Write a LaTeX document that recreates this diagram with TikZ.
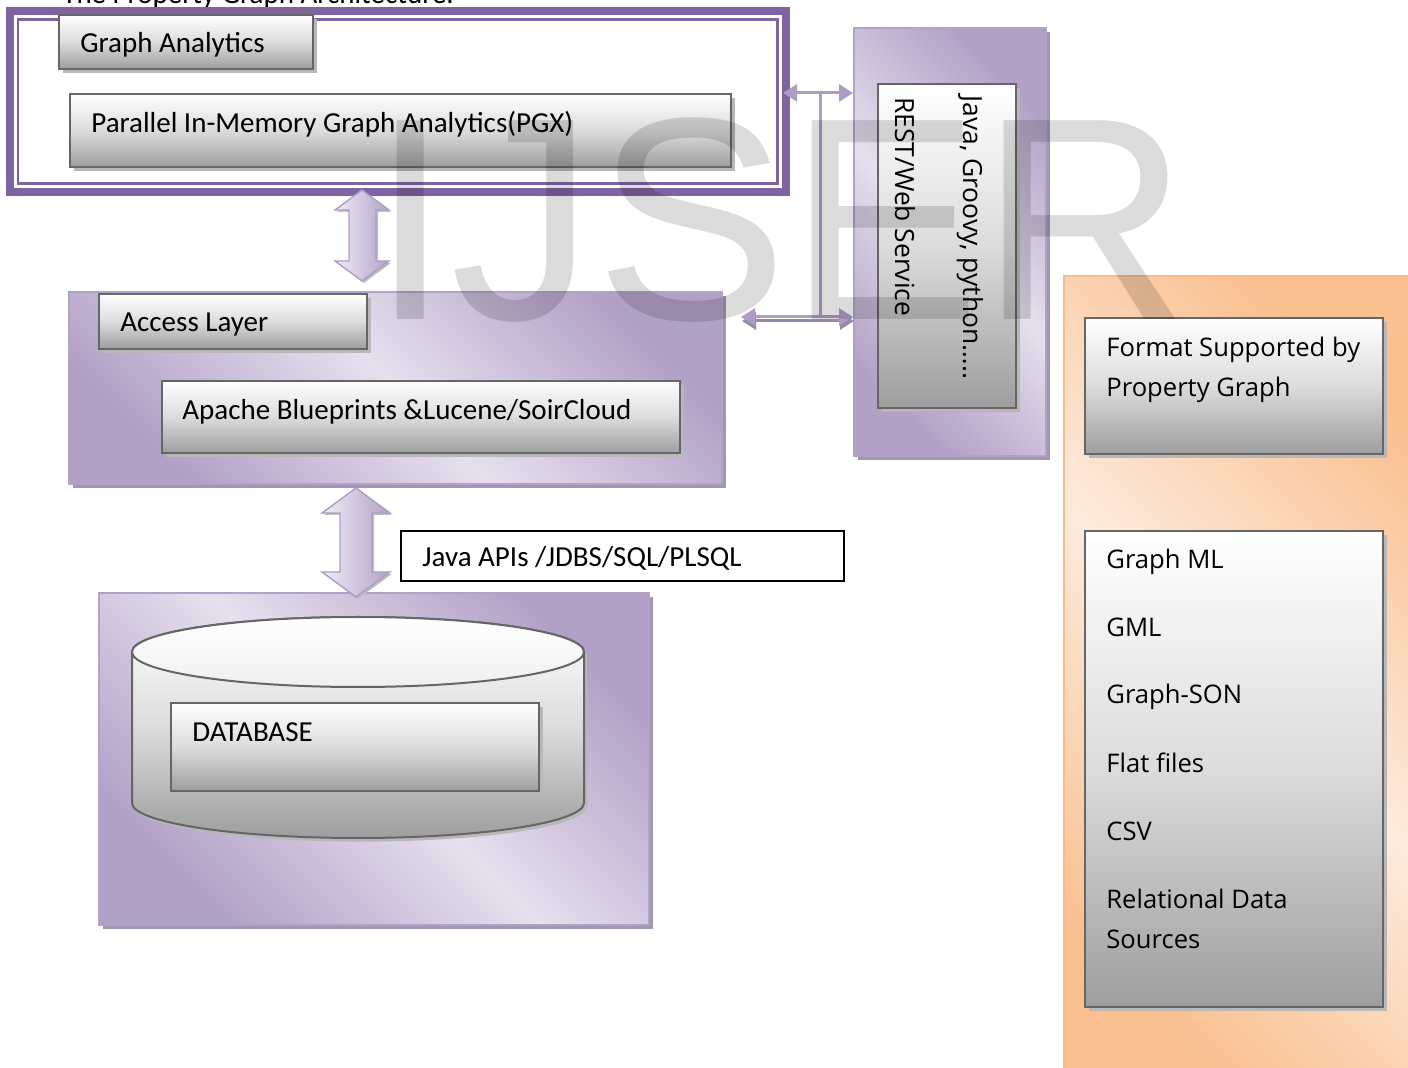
\documentclass[tikz,border=0pt]{standalone}
\usepackage{fontspec}
\setmainfont{Carlito}
\newfontfamily\osans{Open Sans}
\newfontfamily\wmfont{Liberation Sans}
\usetikzlibrary{arrows.meta,shadows}
\definecolor{pdark}{HTML}{B2A1C7}
\definecolor{plight}{HTML}{E6E0EE}
\definecolor{pborder}{HTML}{8064A2}
\definecolor{pline}{HTML}{B3A2C7}
\definecolor{pshadow}{HTML}{A297B2}
\definecolor{odark}{HTML}{FAC090}
\definecolor{olight}{HTML}{FDEBDD}
\definecolor{oborder}{HTML}{F9B988}
\definecolor{gborder}{HTML}{666666}
\definecolor{gbot}{HTML}{9E9E9E}
\definecolor{gmid}{HTML}{DCDCDC}
\definecolor{connc}{HTML}{AE9BC6}
\definecolor{connsh}{HTML}{958AA6}
\tikzset{
  txt/.style={font=\fontsize{14.5}{17}\selectfont, inner sep=0pt, anchor=base west},
  otxt/.style={font=\osans\fontsize{12.8}{15}\selectfont, inner sep=0pt, anchor=base west},
  vtxt/.style={font=\osans\fontsize{13.2}{15}\selectfont, inner sep=0pt, anchor=base west, rotate=-90},
  graybox/.style={draw=gborder, line width=1pt, top color=white, bottom color=gbot, middle color=gmid,
     drop shadow={shadow xshift=1.8pt, shadow yshift=-1.8pt, fill=black!28, opacity=1}},
  pcont/.style={draw=pline, line width=0.9pt, top color=pdark, bottom color=pdark, middle color=plight, shading angle=135,
     drop shadow={shadow xshift=2pt, shadow yshift=-2pt, fill=pshadow, opacity=1}},
  ocont/.style={draw=oborder, line width=0.9pt, top color=odark, bottom color=odark, middle color=olight, shading angle=135},
  blockarrow/.style={draw=connc, line width=0.7pt, left color=plight!60!white, right color=pdark, 
     drop shadow={shadow xshift=1pt, shadow yshift=-1pt, fill=black!25, opacity=1}},
  conn/.style={draw=connc, line width=1.5pt, {Triangle[length=7pt,width=8.5pt]}-{Triangle[length=7pt,width=8.5pt]}},
  connshadow/.style={draw=connsh, line width=1.5pt, {Triangle[length=7pt,width=8.5pt]}-{Triangle[length=7pt,width=8.5pt]}},
}
\begin{document}
\begin{tikzpicture}[x=0.5pt,y=-0.5pt]
\useasboundingbox (0,0) rectangle (1408,1068);
\clip (0,0) rectangle (1408,1068);

% title (cut at top)
\node[txt] (title) at (62,4) {The Property Graph Architecture.};

% ---- top container (Graph Analytics)
\draw[pborder, line width=4pt, fill=white] (10,11) rectangle (785.5,192.5);
\draw[pborder, line width=1.2pt] (18,19.5) rectangle (777.5,183.5);
\node[graybox, minimum width=127pt, minimum height=27pt, anchor=north west, inner sep=0pt] (ga) at (58,14) {};
\node[txt] at (80,53) {Graph Analytics};
\node[graybox, minimum width=330.5pt, minimum height=36.5pt, anchor=north west, inner sep=0pt] (pgx) at (69,93) {};
\node[txt] at (91,133) {Parallel In-Memory Graph Analytics(PGX)};

% ---- right purple container
\node[pcont, minimum width=96pt, minimum height=214pt, anchor=north west, inner sep=0pt] (rc) at (853,27) {};
\node[graybox, minimum width=69pt, minimum height=162pt, anchor=north west, inner sep=0pt] (lang) at (877,83) {};
\node[vtxt] at (963,95) {Java, Groovy, python…..};
\node[vtxt] at (895,97) {REST/Web Service};

% ---- access layer container
\node[pcont, minimum width=326.5pt, minimum height=96pt, anchor=north west, inner sep=0pt] (ac) at (68,291) {};
\node[graybox, minimum width=134pt, minimum height=27.5pt, anchor=north west, inner sep=0pt] (al) at (98,293) {};
\node[txt] at (120,332) {Access Layer};
\node[graybox, minimum width=259pt, minimum height=36pt, anchor=north west, inner sep=0pt] (ap) at (161,380) {};
\node[txt] at (182,420) {Apache Blueprints \&Lucene/SoirCloud};

% ---- database container
\node[pcont, minimum width=275pt, minimum height=166pt, anchor=north west, inner sep=0pt] (dbc) at (98,592) {};
\path[draw=gborder, line width=1pt, top color=white, bottom color=gbot, middle color=gmid,
      drop shadow={shadow xshift=1.5pt, shadow yshift=-1.8pt, fill=black!28, opacity=1}]
  (132,652) -- (132,803) arc[start angle=180, end angle=360, x radius=113pt, y radius=17.5pt]
  -- (584,652) arc[start angle=0, end angle=180, x radius=113pt, y radius=17.5pt] -- cycle;
\draw[gborder, line width=1pt, top color=white, bottom color=white!94!black] (358,652) ellipse [x radius=113pt, y radius=17.5pt];
\node[graybox, minimum width=184pt, minimum height=44pt, anchor=north west, inner sep=0pt] (db) at (170,702) {};
\node[txt] at (192,742) {DATABASE};

% ---- Java APIs label box
\node[draw=black, line width=1pt, fill=white, minimum width=221.5pt, minimum height=25pt, anchor=north west, inner sep=0pt] (api) at (400,530) {};
\node[txt] at (422,567) {Java APIs /JDBS/SQL/PLSQL};

% ---- orange container
\node[ocont, minimum width=180pt, minimum height=410pt, anchor=north west, inner sep=0pt] (oc) at (1063,275) {};
\node[graybox, minimum width=149pt, minimum height=68pt, anchor=north west, inner sep=0pt] (fmt) at (1084,317) {};
\node[otxt] at (1106,357) {Format Supported by};
\node[otxt] at (1106,397) {Property Graph};
\node[graybox, minimum width=149pt, minimum height=238pt, anchor=north west, inner sep=0pt] (lst) at (1084,530) {};
\node[otxt] at (1106,569) {Graph ML};
\node[otxt] at (1106,637) {GML};
\node[otxt] at (1106,704) {Graph-SON};
\node[otxt] at (1106,772) {Flat files};
\node[otxt] at (1106,840) {CSV};
\node[otxt] at (1106,908) {Relational Data};
\node[otxt] at (1106,948) {Sources};

% ---- block arrows
\path[blockarrow] (362,190) -- (389,210) -- (376,210) -- (376,261) -- (389,261) -- (362,281)
   -- (335,261) -- (349,261) -- (349,210) -- (335,210) -- cycle;
\path[blockarrow] (356,488) -- (390,513) -- (372,513) -- (372,572) -- (390,572) -- (356,597)
   -- (322,572) -- (340,572) -- (340,513) -- (322,513) -- cycle;

% ---- connectors to the right container
\coordinate (u1) at (783,93);
\coordinate (u2) at (rc.west |- u1);
\coordinate (j1) at (820,93);
\coordinate (l1) at (741,317);
\coordinate (l2) at (rc.west |- l1);
\coordinate (j2) at (820,317);
\draw[connshadow] ([shift={(1,4)}]l1) -- ([shift={(1,4)}]l2);
\draw[conn] (u1) -- (u2);
\draw[conn] (l1) -- (l2);
\draw[draw=connc, line width=1.5pt] (j1) -- (j2);

% ---- watermark
\node[font=\wmfont\fontsize{144.5}{144.5}\selectfont, text=black, text opacity=0.14, anchor=base west, inner sep=0pt] (wm) at (370,320) {IJSER};
\end{tikzpicture}
\end{document}
